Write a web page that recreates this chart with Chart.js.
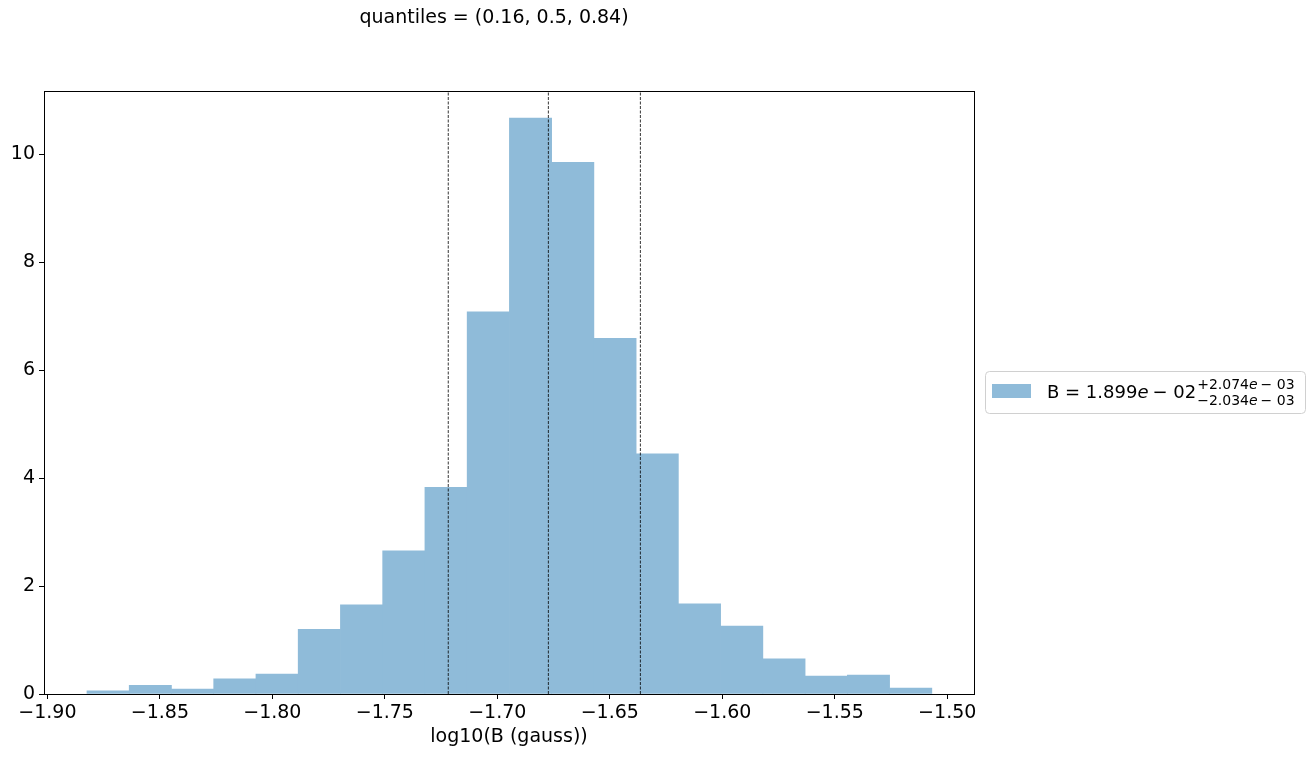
<!DOCTYPE html>
<html>
<head>
<meta charset="utf-8">
<script src="https://cdn.jsdelivr.net/npm/chart.js@4.4.1/dist/chart.umd.min.js"></script>
<style>
  html, body { margin: 0; padding: 0; background: #fff; }
  #wrap { width: 1315px; height: 757px; position: relative; }
</style>
</head>
<body>
<div id="wrap"><canvas id="chart"></canvas></div>
<script>
// histogram bins (log10 B), 20 bins
const binStart = -1.8824;
const binWidth = 0.018778;
const density = [0.06, 0.16, 0.09, 0.28, 0.37, 1.20, 1.65, 2.65, 3.83, 7.08,
                 10.67, 9.85, 6.59, 4.45, 1.67, 1.26, 0.65, 0.33, 0.35, 0.11];
const quantiles = [-1.7218, -1.6773, -1.6364];
const xTicks = [-1.90, -1.85, -1.80, -1.75, -1.70, -1.65, -1.60, -1.55, -1.50];
const yTicks = [0, 2, 4, 6, 8, 10];

const FONT = "'DejaVu Sans', sans-serif";
const BAR = "#8fbbd9";
const minus = s => s.replace("-", "\u2212");

const barData = density.map((v, i) => ({ x: binStart + binWidth * (i + 0.5), y: v }));

// dashed quantile markers, drawn on top of the bars
const qLines = quantiles.map(q => ({
  type: "line",
  order: 0,
  data: [{ x: q, y: 0 }, { x: q, y: 11.17 }],
  borderColor: "#000",
  borderWidth: 0.8,
  borderDash: [3, 1.5],
  pointRadius: 0,
  fill: false
}));

const frame = {
  id: "frame",
  afterDraw(chart) {
    const { ctx, chartArea: a } = chart;
    ctx.save();
    ctx.strokeStyle = "#000";
    ctx.lineWidth = 1;
    ctx.strokeRect(a.left + 0.5, a.top + 0.5, a.right - a.left, a.bottom - a.top);

    // title
    ctx.fillStyle = "#000";
    ctx.font = "19px " + FONT;
    ctx.textAlign = "center";
    ctx.textBaseline = "middle";
    ctx.fillText("quantiles = (0.16, 0.5, 0.84)", 494, 18);

    // legend
    ctx.strokeStyle = "#d0d0d0";
    ctx.lineWidth = 1;
    ctx.beginPath();
    ctx.roundRect(985.5, 371.5, 320, 42, 4);
    ctx.fillStyle = "rgba(255,255,255,0.8)";
    ctx.fill();
    ctx.stroke();
    ctx.fillStyle = BAR;
    ctx.fillRect(992, 384, 39, 14);
    ctx.fillStyle = "#000";
    ctx.textAlign = "left";
    ctx.textBaseline = "alphabetic";
    ctx.font = "18px " + FONT;
    ctx.fillText("B = 1.899", 1047, 398);
    let x = 1047 + ctx.measureText("B = 1.899").width;
    ctx.font = "italic 18px " + FONT;
    ctx.fillText("e", x, 398);
    x += ctx.measureText("e").width + 4;
    ctx.font = "18px " + FONT;
    ctx.fillText("\u2212 02", x, 398);
    x += ctx.measureText("\u2212 02").width + 1;
    ctx.font = "14px " + FONT;
    ctx.fillText("+2.074", x, 389);
    ctx.fillText("\u22122.034", x, 405);
    let x2 = x + ctx.measureText("+2.074").width;
    ctx.font = "italic 14px " + FONT;
    ctx.fillText("e", x2, 389);
    ctx.fillText("e", x2, 405);
    x2 += ctx.measureText("e").width + 3;
    ctx.font = "14px " + FONT;
    ctx.fillText("\u2212 03", x2, 389);
    ctx.fillText("\u2212 03", x2, 405);
    ctx.restore();
  }
};

new Chart(document.getElementById("chart").getContext("2d"), {
  type: "bar",
  data: {
    datasets: [{
      order: 1,
      data: barData,
      backgroundColor: BAR,
      borderWidth: 0,
      barPercentage: 1,
      categoryPercentage: 1,
      grouped: false
    }, ...qLines]
  },
  options: {
    responsive: true,
    maintainAspectRatio: false,
    animation: false,
    layout: { padding: { left: 0, top: 91, right: 1315 - 974, bottom: 9 } },
    plugins: { legend: { display: false }, tooltip: { enabled: false } },
    scales: {
      x: {
        type: "linear",
        offset: false,
        min: -1.9015,
        max: -1.4881,
        afterBuildTicks: s => { s.ticks = xTicks.map(v => ({ value: v })); },
        afterFit: s => { s.height = 54; },
        grid: { offset: false, drawOnChartArea: false, drawTicks: true, tickLength: 5, tickColor: "#000" },
        border: { display: false },
        ticks: {
          color: "#000",
          font: { size: 19, family: FONT },
          padding: 3,
          maxRotation: 0,
          autoSkip: false,
          callback: v => minus(v.toFixed(2))
        },
        title: {
          display: true,
          text: "log10(B (gauss))",
          color: "#000",
          font: { size: 19, family: FONT },
          padding: { top: 0, bottom: 0 }
        }
      },
      y: {
        min: 0,
        max: 11.17,
        afterBuildTicks: s => { s.ticks = yTicks.map(v => ({ value: v })); },
        afterFit: s => { s.width = 44; },
        grid: { drawOnChartArea: false, drawTicks: true, tickLength: 5, tickColor: "#000" },
        border: { display: false },
        ticks: {
          color: "#000",
          font: { size: 19, family: FONT },
          padding: 4,
          callback: v => String(v)
        }
      }
    }
  },
  plugins: [frame]
});
</script>
</body>
</html>
